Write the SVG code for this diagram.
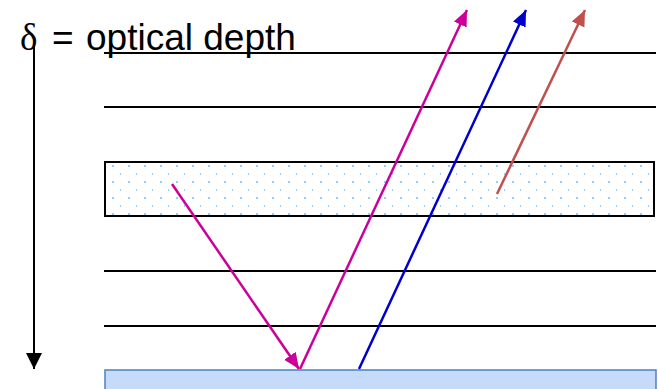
<svg xmlns="http://www.w3.org/2000/svg" width="658" height="389" viewBox="0 0 658 389">
<style>
.hl{stroke:#000;stroke-width:2;fill:none}
.ray{stroke-width:2.5;fill:none}
.lbl{font-family:"Liberation Sans",Arial,sans-serif;font-size:37px;fill:#000}
.sym{font-family:"Liberation Serif","Times New Roman",serif}
</style>
<defs>
<pattern id="dots" x="105" y="162" width="16" height="16" patternUnits="userSpaceOnUse">
<rect x="7" y="3" width="2" height="2" fill="#99ccff"/>
<rect x="15" y="11" width="2" height="2" fill="#99ccff"/>
</pattern>
<marker id="hMag" markerUnits="userSpaceOnUse" markerWidth="20" markerHeight="16" refX="16" refY="7" orient="auto"><path d="M0,0 L16,7 L0,14 Z" fill="#cc0099"/></marker>
<marker id="hBlue" markerUnits="userSpaceOnUse" markerWidth="20" markerHeight="16" refX="16" refY="7" orient="auto"><path d="M0,0 L16,7 L0,14 Z" fill="#0000cc"/></marker>
<marker id="hRed" markerUnits="userSpaceOnUse" markerWidth="20" markerHeight="16" refX="16" refY="7" orient="auto"><path d="M0,0 L16,7 L0,14 Z" fill="#c0504d"/></marker>
<marker id="hBlk" markerUnits="userSpaceOnUse" markerWidth="20" markerHeight="18" refX="16" refY="8" orient="auto"><path d="M0,0 L16,8 L0,16 Z" fill="#000"/></marker>
</defs>
<rect width="658" height="389" fill="#fff"/>
<g id="layers">
<line class="hl" x1="104" y1="53" x2="656" y2="53"/>
<line class="hl" x1="104" y1="107" x2="656" y2="107"/>
<line class="hl" x1="104" y1="271" x2="656" y2="271"/>
<line class="hl" x1="104" y1="326" x2="656" y2="326"/>
</g>
<g id="cloud">
<rect x="105" y="162" width="549" height="54" fill="#fff"/>
<rect x="105" y="162" width="549" height="54" fill="url(#dots)" stroke="#000" stroke-width="2"/>
</g>
<g id="surface">
<rect x="105" y="370" width="551" height="22" fill="#c6dbf9" stroke="#4f81bd" stroke-width="1.5"/>
</g>
<g id="label">
<text class="lbl" y="50"><tspan class="sym" x="20">δ</tspan><tspan x="52">=</tspan><tspan x="86">optical depth</tspan></text>
</g>
<g id="connectors">
<line x1="34" y1="43" x2="34" y2="369" stroke="#000" stroke-width="2" marker-end="url(#hBlk)"/>
<line class="ray" x1="172" y1="184" x2="299" y2="369" stroke="#cc0099" marker-end="url(#hMag)"/>
<line class="ray" x1="300" y1="369" x2="467" y2="10" stroke="#cc0099" marker-end="url(#hMag)"/>
<line class="ray" x1="359" y1="369" x2="526" y2="10" stroke="#0000cc" marker-end="url(#hBlue)"/>
<line class="ray" x1="497" y1="194" x2="585" y2="10" stroke="#c0504d" marker-end="url(#hRed)"/>
</g>
</svg>
